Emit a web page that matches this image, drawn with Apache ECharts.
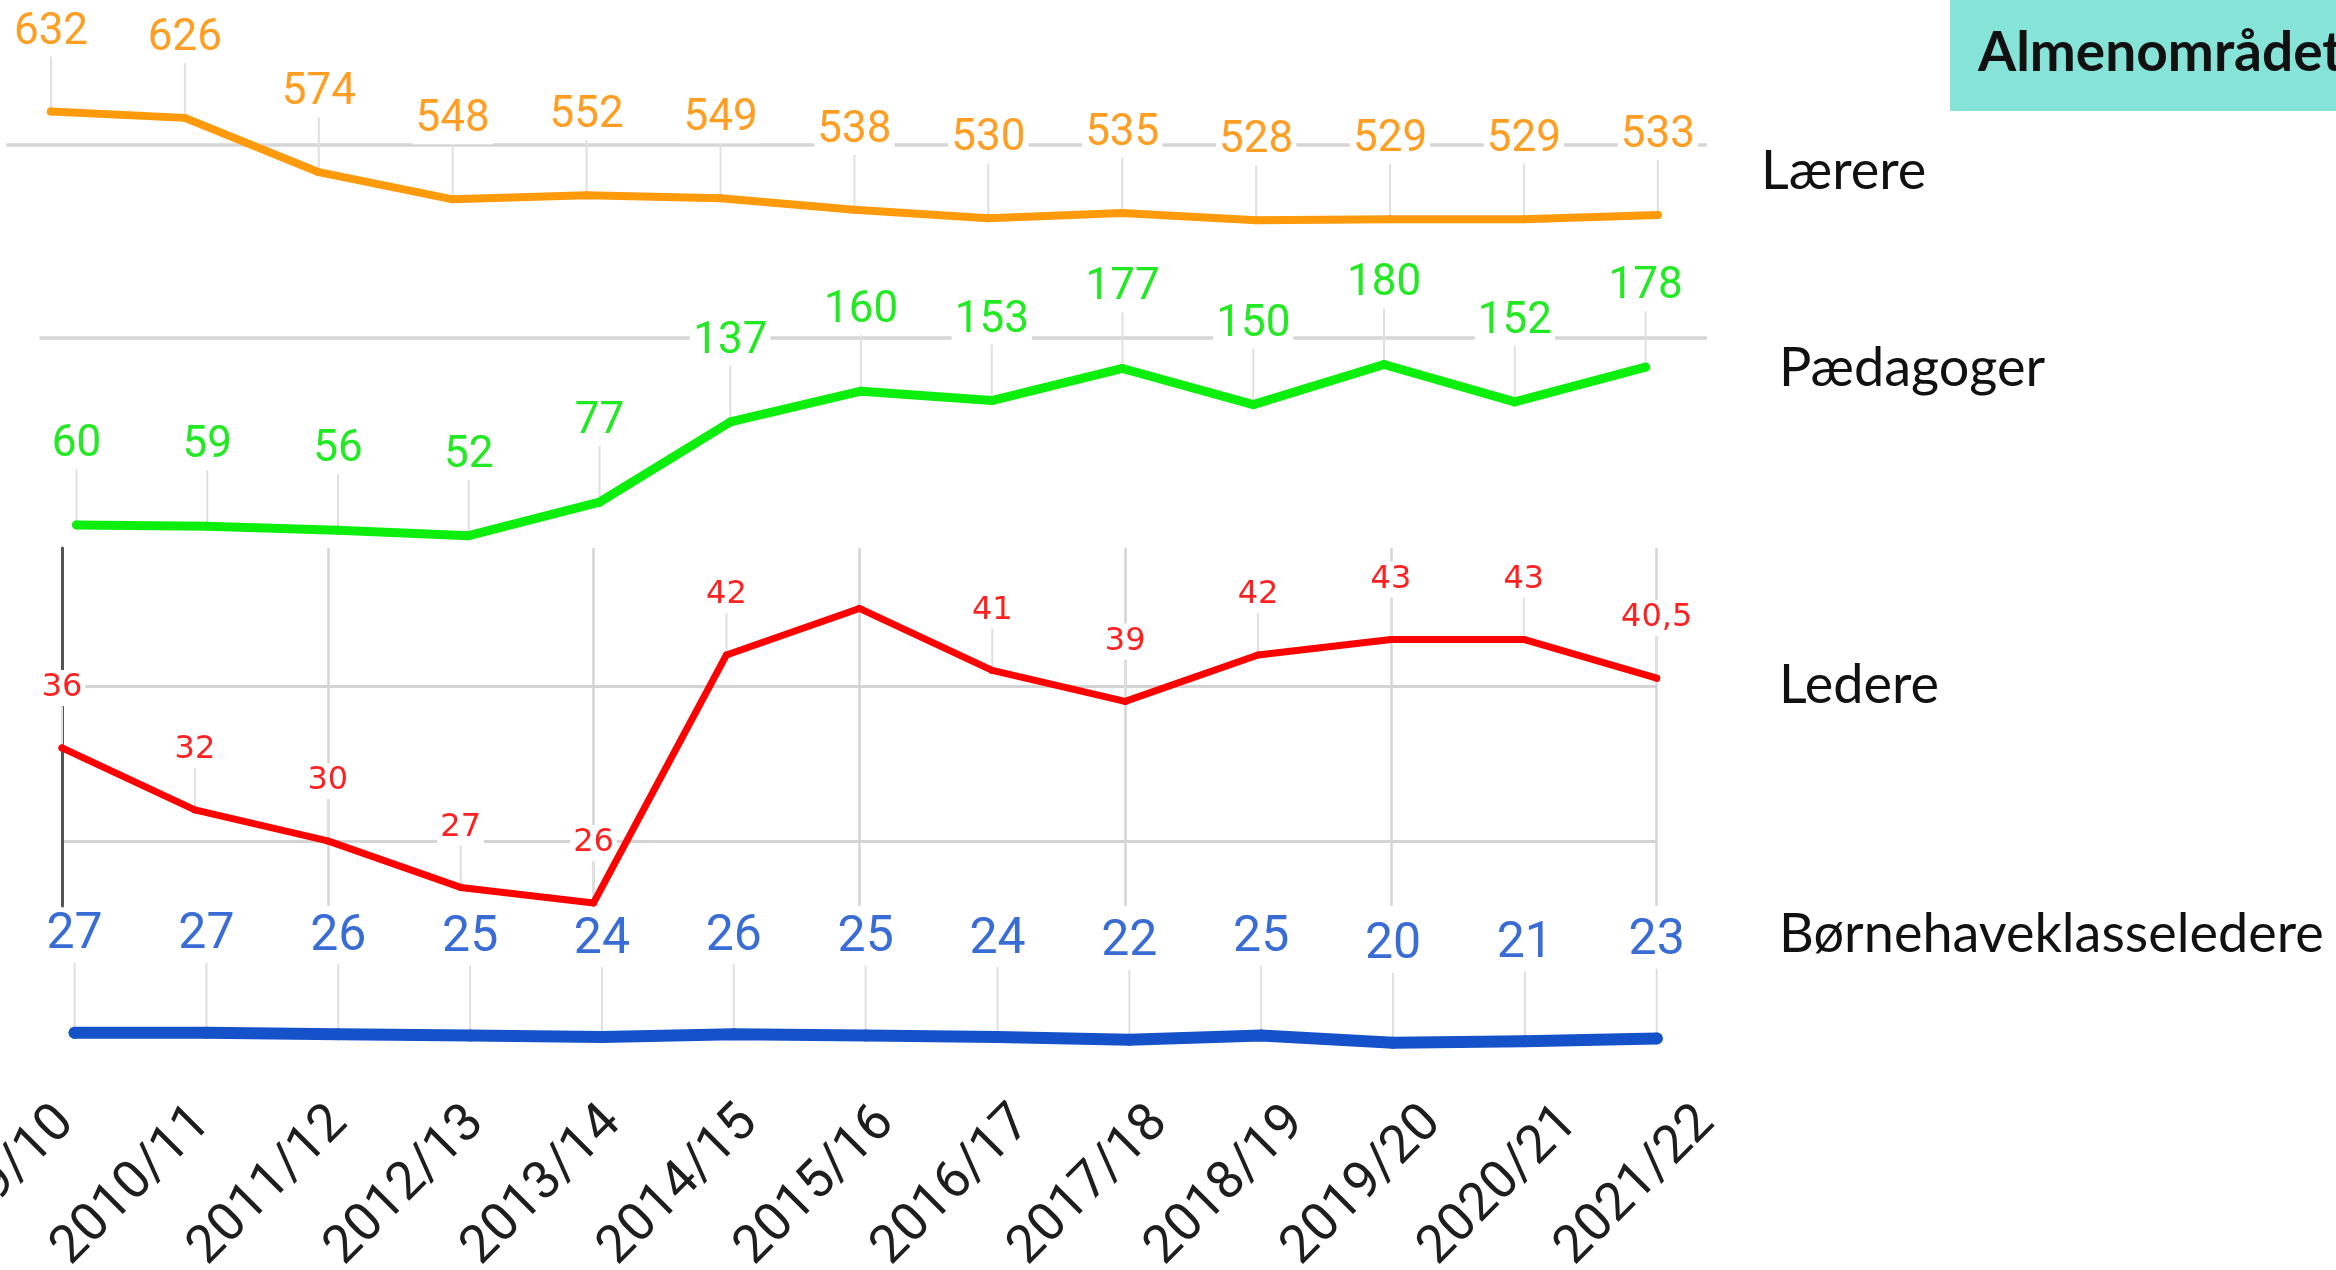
<!DOCTYPE html>
<html>
<head>
<meta charset="utf-8">
<title>Almenområdet</title>
<script src="https://cdn.jsdelivr.net/npm/echarts@6/dist/echarts.min.js"></script>
<style>
  html, body { margin: 0; padding: 0; background: #fff; }
  #chart { width: 2336px; height: 1270px; }
</style>
</head>
<body>
<div id="chart"></div>
<script>
//--------------------- Data ---------------------------//
const years = ['2009/10', '2010/11', '2011/12', '2012/13', '2013/14', '2014/15', '2015/16',
  '2016/17', '2017/18', '2018/19', '2019/20', '2020/21', '2021/22'];
const laerere = [632, 626, 574, 548, 552, 549, 538, 530, 535, 528, 529, 529, 533];
const paedagoger = [60, 59, 56, 52, 77, 137, 160, 153, 177, 150, 180, 152, 178];
const ledere = [36, 32, 30, 27, 26, 42, 45, 41, 39, 42, 43, 43, 40.5];
const ledereNoLabel = [6]; // 2015/16 has no value label in the original
const bhkl = [27, 27, 26, 25, 24, 26, 25, 24, 22, 25, 20, 21, 23];
const rowNames = ['Lærere', 'Pædagoger', 'Ledere', 'Børnehaveklasseledere'];
const boxTitle = 'Almenområdet';

//--------------------- Helpers ---------------------------//
const fmt = (p) => String(p.value[1]).replace('.', ',');

// series that only carries the value labels (its own line is invisible)
function labelSeries(idx, values, cfg, hidden) {
  hidden = hidden || [];
  const h = cfg.fontSize + 4;
  return {
    type: 'line', xAxisIndex: idx, yAxisIndex: idx, z: 2, silent: true,
    symbol: 'circle', symbolSize: cfg.width, showSymbol: true, showAllSymbol: true,
    itemStyle: { color: cfg.color },
    lineStyle: { opacity: 0 },
    data: values.map((v, i) => hidden.includes(i) ? { value: [i, v], label: { show: false } } : [i, v]),
    label: {
      show: true, position: 'top', distance: cfg.offset - cfg.width / 2 - h / 2,
      color: cfg.labelColor, fontSize: cfg.fontSize, fontFamily: cfg.font || 'Roboto',
      lineHeight: cfg.fontSize, padding: [2, 3], backgroundColor: '#fff', formatter: fmt
    }
  };
}

// thin grey guide from under each value label down to its point
function guideSeries(idx, values, cfg, hidden) {
  hidden = hidden || [];
  return {
    type: 'custom', xAxisIndex: idx, yAxisIndex: idx, z: 1, silent: true,
    data: values.map((v, i) => [i, v]).filter((d) => !hidden.includes(d[0])),
    renderItem: function (params, api) {
      const p = api.coord([api.value(0), api.value(1)]);
      return {
        type: 'line',
        shape: { x1: p[0], y1: p[1] - cfg.offset + cfg.fontSize * 0.45, x2: p[0], y2: p[1] },
        style: { stroke: '#e0e0e0', lineWidth: 2 }
      };
    }
  };
}

function lineSeries(idx, values, cfg) {
  return {
    type: 'line', xAxisIndex: idx, yAxisIndex: idx, z: 3, silent: true, symbol: 'none',
    data: values.map((v, i) => [i, v]),
    lineStyle: { color: cfg.color, width: cfg.width, join: 'round', cap: 'round' }
  };
}

const orangeCfg = { color: '#ff9a0a', labelColor: '#ff9e22', width: 8, fontSize: 44, offset: 79 };
const greenCfg = { color: '#0cef0c', labelColor: '#22ea22', width: 9, fontSize: 44, offset: 80 };
const redCfg = { color: '#ff0000', labelColor: '#ff2020', width: 7, fontSize: 32, offset: 60, font: 'DejaVu Sans' };
const blueCfg = { color: '#1552c9', labelColor: '#3a6cd6', width: 12, fontSize: 50, offset: 97 };

const gridLine = { show: true, showMinLine: false, showMaxLine: false, lineStyle: { color: '#d6d6d6', width: 3.5 } };
const hiddenX = (idx, min, max) => ({ type: 'value', gridIndex: idx, min: min, max: max, show: false });
const rowFont = '54px Lato';

//--------------------- Chart ---------------------------//
const chart = echarts.init(document.getElementById('chart'));
const option = {
  animation: false,
  textStyle: { fontFamily: 'Roboto' },
  grid: [
    { left: 6.4, top: 60, width: 1700.6, height: 180, outerBoundsMode: 'none' },
    { left: 39.5, top: 300, width: 1667.5, height: 245, outerBoundsMode: 'none' },
    { left: 62, top: 548, width: 1594.7, height: 358, outerBoundsMode: 'none' },
    { left: 74.6, top: 1000, width: 1582.1, height: 80, outerBoundsMode: 'none' },
    { left: 66.3, top: 1000, width: 1640.4, height: 105, outerBoundsMode: 'none' }
  ],
  xAxis: [
    hiddenX(0, -0.333, 12.367),
    hiddenX(1, -0.283, 12.47),
    {
      type: 'value', gridIndex: 2, min: 0, max: 12, interval: 2,
      axisLine: { show: false }, axisTick: { show: false }, axisLabel: { show: false },
      splitLine: { show: true, showMinLine: false, lineStyle: { color: '#d4d4d4', width: 2.5 } }
    },
    hiddenX(3, 0, 12),
    {
      type: 'category', gridIndex: 4, data: years, boundaryGap: false,
      axisLine: { show: false }, axisTick: { show: false }, splitLine: { show: false },
      axisLabel: { rotate: 45, interval: 0, margin: 10, fontSize: 53, color: '#1e1e1e', fontFamily: 'Roboto' }
    }
  ],
  yAxis: [
    {
      type: 'value', gridIndex: 0, min: 509.1, max: 681.4, splitNumber: 1,
      axisLine: { show: false }, axisTick: { show: false }, axisLabel: { show: false }, splitLine: gridLine
    },
    {
      type: 'value', gridIndex: 1, min: 45, max: 228.2, splitNumber: 1,
      axisLine: { show: false }, axisTick: { show: false }, axisLabel: { show: false }, splitLine: gridLine
    },
    {
      type: 'value', gridIndex: 2, min: 25.8, max: 48.9, splitNumber: 2,
      axisLine: { show: true, lineStyle: { color: '#555', width: 3 } },
      axisTick: { show: false },
      axisLabel: { show: true, margin: 22, fontSize: 32, color: '#555', showMinLabel: false, showMaxLabel: false },
      splitLine: { show: true, showMinLine: false, showMaxLine: false, lineStyle: { color: '#d4d4d4', width: 3 } }
    },
    { type: 'value', gridIndex: 3, min: -6.1, max: 49.9, show: false },
    { type: 'value', gridIndex: 4, show: false }
  ],
  series: [
    guideSeries(0, laerere, orangeCfg),
    labelSeries(0, laerere, orangeCfg),
    lineSeries(0, laerere, orangeCfg),
    guideSeries(1, paedagoger, greenCfg),
    labelSeries(1, paedagoger, greenCfg),
    lineSeries(1, paedagoger, greenCfg),
    guideSeries(2, ledere, redCfg, ledereNoLabel),
    labelSeries(2, ledere, redCfg, ledereNoLabel),
    lineSeries(2, ledere, redCfg),
    guideSeries(3, bhkl, blueCfg),
    labelSeries(3, bhkl, blueCfg),
    lineSeries(3, bhkl, blueCfg)
  ],
  graphic: [
    // the leaders panel is cropped on its left side in the original
    { type: 'rect', z: 100, shape: { x: 0, y: 548, width: 40, height: 360 }, style: { fill: '#fff' } },
    { type: 'rect', z: 100, shape: { x: 1950, y: 0, width: 386, height: 111 }, style: { fill: '#86e3d8' } },
    {
      type: 'text', z: 101, x: 1978, y: 53,
      style: { text: boxTitle, fill: '#111', font: 'bold 55px Lato', verticalAlign: 'middle' }
    },
    { type: 'text', z: 101, x: 1761, y: 172, style: { text: rowNames[0], fill: '#111', font: rowFont, verticalAlign: 'middle' } },
    { type: 'text', z: 101, x: 1779, y: 369, style: { text: rowNames[1], fill: '#111', font: rowFont, verticalAlign: 'middle' } },
    { type: 'text', z: 101, x: 1779, y: 686, style: { text: rowNames[2], fill: '#111', font: rowFont, verticalAlign: 'middle' } },
    { type: 'text', z: 101, x: 1779, y: 935, style: { text: rowNames[3], fill: '#111', font: rowFont, verticalAlign: 'middle' } }
  ]
};
chart.setOption(option);
</script>
</body>
</html>
